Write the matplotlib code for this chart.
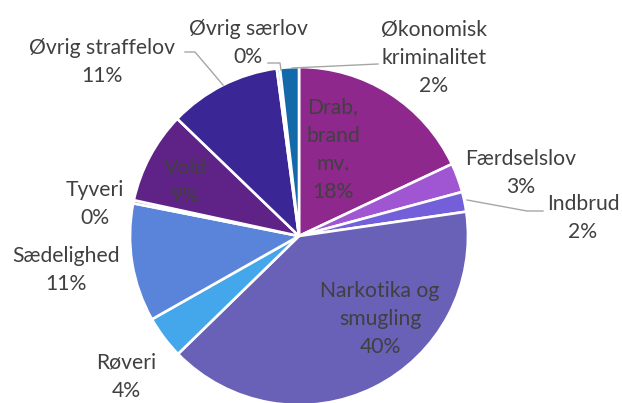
import matplotlib.pyplot as plt

categories = ["Drab, brand mv.", "Færdselslov", "Indbrud", "Narkotika og smugling",
              "Røveri", "Sædelighed", "Tyveri", "Vold", "Øvrig straffelov",
              "Øvrig særlov", "Økonomisk kriminalitet"]
values = [18.0, 2.8, 1.9, 40.0, 4.1, 11.3, 0.3, 8.8, 10.7, 0.3, 1.8]
shown_pct = ["18%", "3%", "2%", "40%", "4%", "11%", "0%", "9%", "11%", "0%", "2%"]
colors = ["#8F288C", "#A056D3", "#745FDA", "#6960B8", "#45A7EB", "#5A84DA",
          "#C060B0", "#5F2388", "#3A2695", "#9EC3EE", "#136AAA"]

# label text (with line breaks as in the chart) and where it sits, pixel coords from top-left
label_text = ["Drab,\nbrand\nmv.", "Færdselslov", "Indbrud", "Narkotika og\nsmugling",
              "Røveri", "Sædelighed", "Tyveri", "Vold", "Øvrig straffelov",
              "Øvrig særlov", "Økonomisk\nkriminalitet"]
label_pos = [(333, 150), (521, 173), (583, 218), (380, 319), (126, 377), (66, 270),
             (95, 204), (185, 182), (102, 62), (248, 43), (434, 58)]
leaders = {8: [(185, 52), (195, 52), (223, 85)],
           9: [(268, 63), (280, 63), (281, 70)],
           10: [(292, 68), (378, 64)],
           2: [(467, 200), (527, 211), (543, 211)]}

W, H = 622, 403
fig = plt.figure(figsize=(W / 100, H / 100), dpi=100)
ax = fig.add_axes([0, 0, 1, 1])

ax.pie(values, colors=colors, startangle=90, counterclock=False,
       center=(299, H - 236), radius=169,
       wedgeprops=dict(edgecolor="white", linewidth=1.9))
ax.set_xlim(0, W)
ax.set_ylim(0, H)
ax.set_aspect("equal")
ax.axis("off")

for i, (txt, (x, y)) in enumerate(zip(label_text, label_pos)):
    ax.text(x, H - y, txt + "\n" + shown_pct[i], ha="center", va="center",
            fontsize=15.2, family="Lato", color="#404040", linespacing=1.52)

for pts in leaders.values():
    ax.plot([p[0] for p in pts], [H - p[1] for p in pts], color="#A6A6A6", lw=1.0)

fig.savefig("out.png", dpi=100)
